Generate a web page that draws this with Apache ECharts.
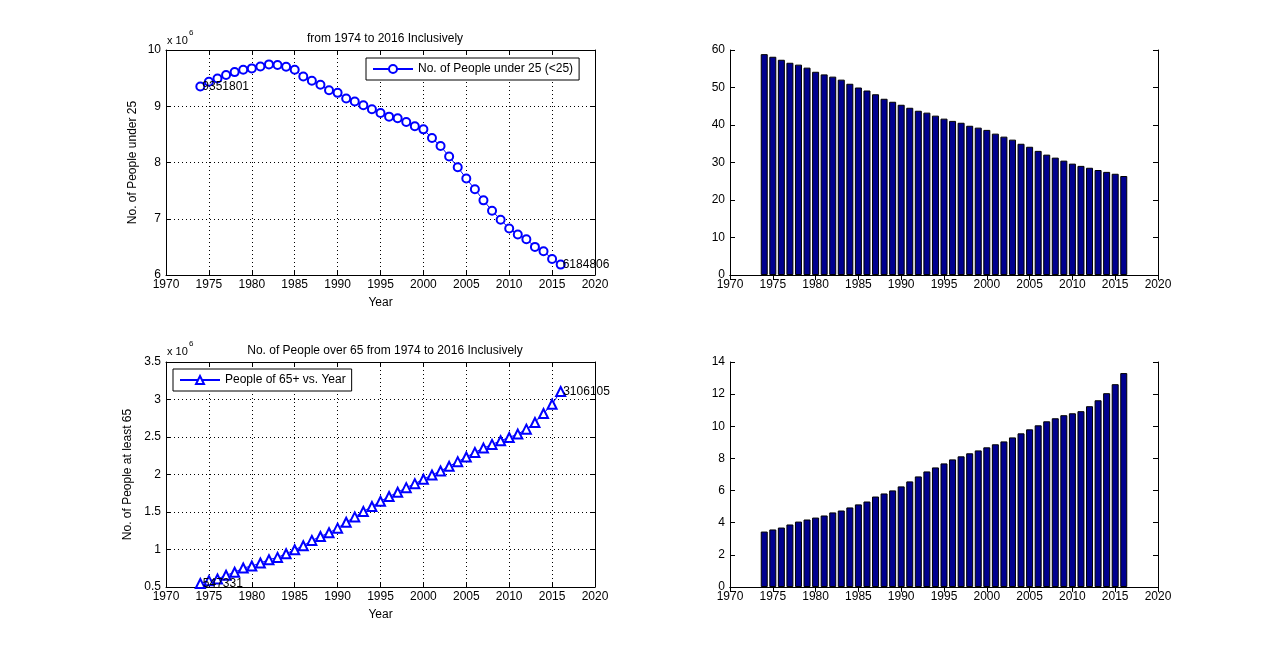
<!DOCTYPE html>
<html style="height: 100%; width: 100%">
<head>
  <meta charset="utf-8" />
  <script src="https://cdn.jsdelivr.net/npm/echarts@6.0.0/dist/echarts.min.js"></script>
</head>
<body style="height: 100%; width: 100%; margin: 0; background: #fff;">
  <div id="chart-panel" style="height: 660px; width: 1280px;"></div>
  <script type="text/javascript">
    var years = [1974, 1975, 1976, 1977, 1978, 1979, 1980, 1981, 1982, 1983, 1984, 1985, 1986, 1987, 1988,
      1989, 1990, 1991, 1992, 1993, 1994, 1995, 1996, 1997, 1998, 1999, 2000, 2001, 2002, 2003, 2004,
      2005, 2006, 2007, 2008, 2009, 2010, 2011, 2012, 2013, 2014, 2015, 2016];
    // people under 25 (count)
    var under25 = [9351801, 9435000, 9494000, 9554000, 9607000, 9649000, 9673000, 9708000, 9744000, 9732000,
      9702000, 9649000, 9530000, 9452000, 9381000, 9286000, 9238000, 9137000, 9083000, 9018000, 8946000,
      8881000, 8815000, 8786000, 8720000, 8643000, 8589000, 8435000, 8292000, 8107000, 7917000, 7714000,
      7524000, 7327000, 7143000, 6982000, 6827000, 6720000, 6637000, 6500000, 6423000, 6286000, 6184806];
    // people 65 and over (count)
    var over65 = [547331, 585000, 607000, 656000, 696000, 753000, 780000, 820000, 864000, 895000,
      943000, 997000, 1050000, 1121000, 1174000, 1223000, 1285000, 1364000, 1435000, 1506000, 1573000,
      1643000, 1706000, 1763000, 1825000, 1878000, 1936000, 1994000, 2047000, 2109000, 2171000, 2233000,
      2295000, 2352000, 2401000, 2450000, 2494000, 2539000, 2605000, 2694000, 2813000, 2937000, 3106105];
    // share of population (%)
    var under25Pct = [58.9, 58.2, 57.4, 56.6, 56.1, 55.3, 54.2, 53.5, 52.9, 52.1, 51.0, 50.0, 49.2, 48.2,
      47.0, 46.2, 45.4, 44.6, 43.8, 43.3, 42.5, 41.7, 41.1, 40.6, 39.8, 39.3, 38.7, 37.7, 36.9, 36.1,
      35.0, 34.2, 33.1, 32.1, 31.3, 30.5, 29.7, 29.1, 28.6, 28.0, 27.5, 27.0, 26.4];
    var over65Pct = [3.45, 3.58, 3.70, 3.89, 4.07, 4.20, 4.32, 4.45, 4.64, 4.76, 4.95, 5.14, 5.32, 5.63,
      5.82, 6.01, 6.26, 6.57, 6.88, 7.19, 7.44, 7.69, 7.94, 8.13, 8.32, 8.50, 8.69, 8.88, 9.06, 9.31,
      9.56, 9.81, 10.06, 10.31, 10.50, 10.69, 10.81, 10.94, 11.25, 11.62, 12.06, 12.62, 13.31];

    var titles = ["from 1974 to 2016 Inclusively", "No. of People over 65 from 1974 to 2016 Inclusively"];
    var legendNames = ["No. of People under 25 (<25)", "People of 65+ vs. Year"];
    var yNames = ["No. of People under 25", "No. of People at least 65"];

    var font = "Liberation Sans";
    var chart = echarts.init(document.getElementById("chart-panel"));

    function pairs(ys) {
      return years.map(function (y, i) { return [y, ys[i]]; });
    }

    var grids = [
      { left: 166, top: 50, width: 429, height: 225 },
      { left: 730, top: 50, width: 428, height: 225 },
      { left: 166, top: 362, width: 429, height: 225 },
      { left: 730, top: 362, width: 428, height: 225 },
    ];
    var yRanges = [[6000000, 10000000, 1000000], [0, 60, 10], [500000, 3500000, 500000], [0, 14, 2]];

    var xAxes = [], yAxes = [];
    grids.forEach(function (g, i) {
      var dotted = (i % 2 === 0);
      xAxes.push({
        type: "value", gridIndex: i, min: 1970, max: 2020, interval: 5,
        name: dotted ? "Year" : "", nameLocation: "middle", nameGap: 22,
        nameTextStyle: { color: "#000", fontFamily: font, fontSize: 12 },
        axisLine: { lineStyle: { color: "#000", width: 1 } },
        axisTick: { inside: true, length: 5, lineStyle: { color: "#000" } },
        axisLabel: { color: "#000", fontFamily: font, fontSize: 12, margin: 4,
          formatter: function (v) { return String(v); } },
        splitLine: { show: dotted, lineStyle: { color: "#000", type: [1, 3], width: 1 } },
      });
      yAxes.push({
        type: "value", gridIndex: i, min: yRanges[i][0], max: yRanges[i][1], interval: yRanges[i][2],
        name: dotted ? yNames[i / 2] : "", nameLocation: "middle", nameGap: i === 0 ? 27 : 32,
        nameTextStyle: { color: "#000", fontFamily: font, fontSize: 12 },
        axisLine: { show: true, lineStyle: { color: "#000", width: 1 } },
        axisTick: { show: true, inside: true, length: 5, lineStyle: { color: "#000" } },
        axisLabel: {
          color: "#000", fontFamily: font, fontSize: 12, margin: 5,
          formatter: dotted ? function (v) { return String(v / 1000000); } : function (v) { return String(v); },
        },
        splitLine: { show: dotted, lineStyle: { color: "#000", type: [1, 3], width: 1 } },
      });
    });
    // mirror axes to close the box (top / right) with inward ticks
    grids.forEach(function (g, i) {
      xAxes.push({
        type: "value", gridIndex: i, position: "top", min: 1970, max: 2020, interval: 5,
        axisLine: { lineStyle: { color: "#000", width: 1 } },
        axisTick: { inside: true, length: 5, lineStyle: { color: "#000" } },
        axisLabel: { show: false }, splitLine: { show: false },
      });
      yAxes.push({
        type: "value", gridIndex: i, position: "right",
        min: yRanges[i][0], max: yRanges[i][1], interval: yRanges[i][2],
        axisLine: { show: true, lineStyle: { color: "#000", width: 1 } },
        axisTick: { show: true, inside: true, length: 5, lineStyle: { color: "#000" } },
        axisLabel: { show: false }, splitLine: { show: false },
      });
    });

    function endLabels(p) {
      var last = years.length - 1;
      return (p.dataIndex === 0 || p.dataIndex === last) ? String(p.value[1]) : "";
    }

    var option = {
      animation: false,
      backgroundColor: "#fff",
      textStyle: { fontFamily: font },
      title: [
        { text: titles[0], left: 380, top: 28, textAlign: "center",
          textStyle: { fontSize: 12, fontWeight: "normal", color: "#000", fontFamily: font } },
        { text: titles[1], left: 380, top: 340, textAlign: "center",
          textStyle: { fontSize: 12, fontWeight: "normal", color: "#000", fontFamily: font } },
        { text: "x 10", left: 167, top: 35, padding: 0, textStyle: { fontSize: 11, fontWeight: "normal", color: "#000", fontFamily: font } },
        { text: "6", left: 189, top: 29, padding: 0, textStyle: { fontSize: 8, fontWeight: "normal", color: "#000", fontFamily: font } },
        { text: "x 10", left: 167, top: 346, padding: 0, textStyle: { fontSize: 11, fontWeight: "normal", color: "#000", fontFamily: font } },
        { text: "6", left: 189, top: 340, padding: 0, textStyle: { fontSize: 8, fontWeight: "normal", color: "#000", fontFamily: font } },
      ],
      legend: [
        { data: [legendNames[0]], left: 366, top: 58, itemWidth: 40, itemHeight: 10, itemGap: 4,
          padding: [5, 6, 5, 6], borderColor: "#000", borderWidth: 1, borderRadius: 0, backgroundColor: "#fff",
          textStyle: { color: "#000", fontFamily: font, fontSize: 12 } },
        { data: [legendNames[1]], left: 173, top: 369, itemWidth: 40, itemHeight: 10, itemGap: 4,
          padding: [5, 6, 5, 6], borderColor: "#000", borderWidth: 1, borderRadius: 0, backgroundColor: "#fff",
          textStyle: { color: "#000", fontFamily: font, fontSize: 12 } },
      ],
      grid: grids,
      xAxis: xAxes,
      yAxis: yAxes,
      series: [
        {
          name: legendNames[0], type: "line", xAxisIndex: 0, yAxisIndex: 0,
          data: pairs(under25), symbol: "emptyCircle", symbolSize: 8,
          lineStyle: { color: "#0000ff", width: 1 },
          itemStyle: { color: "#0000ff", borderColor: "#0000ff", borderWidth: 1 },
          label: { show: true, position: "right", distance: -3, color: "#000", fontSize: 12, fontFamily: font, formatter: endLabels },
        },
        {
          type: "bar", xAxisIndex: 1, yAxisIndex: 1, data: pairs(under25Pct), barWidth: 7,
          itemStyle: { color: "#00008f", borderColor: "#000", borderWidth: 1 },
        },
        {
          name: legendNames[1], type: "line", xAxisIndex: 2, yAxisIndex: 2,
          data: pairs(over65), symbol: "emptyTriangle", symbolSize: 9,
          lineStyle: { color: "#0000ff", width: 1 },
          itemStyle: { color: "#0000ff", borderColor: "#0000ff", borderWidth: 1 },
          label: { show: true, position: "right", distance: -3, color: "#000", fontSize: 12, fontFamily: font, formatter: endLabels },
        },
        {
          type: "bar", xAxisIndex: 3, yAxisIndex: 3, data: pairs(over65Pct), barWidth: 7,
          itemStyle: { color: "#00008f", borderColor: "#000", borderWidth: 1 },
        },
      ],
    };

    chart.setOption(option);
  </script>
</body>
</html>
